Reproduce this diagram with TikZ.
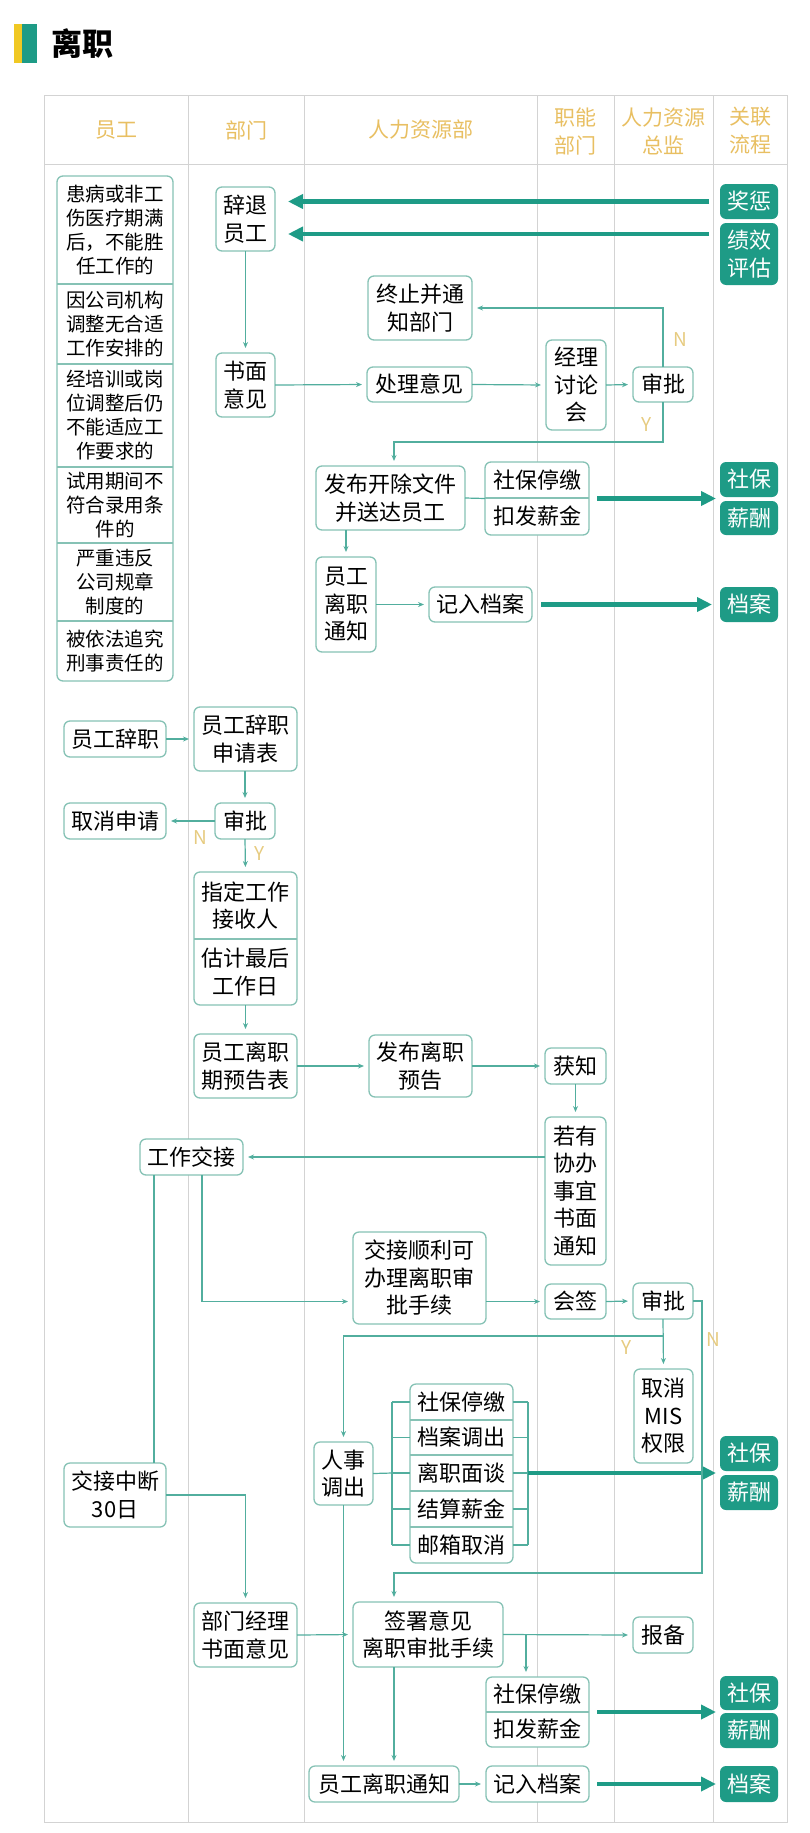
\documentclass[tikz,border=0pt]{standalone}
\usepackage{fontspec}
\setmainfont{Noto Sans CJK SC}
\usetikzlibrary{arrows.meta}
\definecolor{tealF}{HTML}{1E9B86}
\definecolor{lineC}{HTML}{52AE9E}
\definecolor{boxC}{HTML}{86C2B5}
\definecolor{gridC}{HTML}{D3D3D3}
\definecolor{goldC}{HTML}{E8BF62}
\definecolor{ynC}{HTML}{E6CB80}
\definecolor{yellowC}{HTML}{F0C823}
\newcommand\myfs[2]{\fontsize{#1}{#2}\selectfont}
\newcommand\nd[7][box]{\node[#1, minimum width={#5-#3}, minimum height={#6-#4}] (#2) at ({(#3+#5)/2},{(#4+#6)/2}) {#7};}
\begin{document}
\begin{tikzpicture}[x=1pt,y=-1pt,
  box/.style={draw=boxC, line width=1.3pt, rounded corners=6pt, fill=white, inner sep=0pt, outer sep=0pt, align=center, font=\myfs{22}{27.5}},
  row/.style={inner sep=0pt, outer sep=0pt, align=center, font=\myfs{22}{27.5}},
  lrow/.style={inner sep=0pt, outer sep=0pt, align=center, font=\myfs{19.5}{24}},
  fbox/.style={fill=tealF, rounded corners=6pt, text=white, inner sep=0pt, outer sep=0pt, align=center, font=\myfs{22}{27.5}},
  bline/.style={draw=boxC, line width=1.3pt},
  ln/.style={draw=lineC, line width=1.2pt},
  arr/.style={draw=lineC, line width=1.2pt, -{Stealth[length=6pt,width=5pt]}, shorten >=5pt},
  thk/.style={draw=tealF, line width=4.5pt, -{Triangle[length=15pt,width=14pt]}, shorten >=4pt},
  grid/.style={draw=gridC, line width=1pt},
  hdr/.style={text=goldC, font=\myfs{21}{28}, align=center, inner sep=0pt},
  yn/.style={text=ynC, font=\myfs{19}{19}, inner sep=0pt}]
\useasboundingbox (0,0) rectangle (809,1833);
% title
\fill[yellowC] (14,24) rectangle (22,63);
\fill[tealF] (22,24) rectangle (37,63);
\node[anchor=west, font=\myfs{31}{31}\bfseries, inner sep=0pt] (title) at (51,44) {离职};
% table
\draw[grid] (44,96) rectangle (787,1822);
\draw[grid] (44,164) -- (787,164);
\foreach \x in {188,304,537,614,713} \draw[grid] (\x,96) -- (\x,1822);
\node[hdr] (h1) at (116,130) {员工};
\node[hdr] (h2) at (246,130) {部门};
\node[hdr] (h3) at (420.5,130) {人力资源部};
\node[hdr] (h4) at (575.5,131) {职能\\部门};
\node[hdr] (h5) at (663.5,131) {人力资源\\总监};
\node[hdr] (h6) at (750,131) {关联\\流程};
% left stacked reasons
\nd{L}{57}{176}{173}{681}{}
\nd[lrow]{L1}{57}{176}{173}{284}{患病或非工\\伤医疗期满\\后，不能胜\\任工作的}
\nd[lrow]{L2}{57}{284}{173}{364}{因公司机构\\调整无合适\\工作安排的}
\nd[lrow]{L3}{57}{364}{173}{467}{经培训或岗\\位调整后仍\\不能适应工\\作要求的}
\nd[lrow]{L4}{57}{467}{173}{543}{试用期间不\\符合录用条\\件的}
\nd[lrow]{L5}{57}{543}{173}{621}{严重违反\\公司规章\\制度的}
\nd[lrow]{L6}{57}{621}{173}{681}{被依法追究\\刑事责任的}
\foreach \n in {L1,L2,L3,L4,L5} \draw[bline] (\n.south west) -- (\n.south east);
% part 1
\nd{ct}{216}{187}{275}{251}{辞退\\员工}
\nd{sm}{216}{353}{275}{417}{书面\\意见}
\nd[fbox]{jc}{720}{184}{778}{219}{奖惩}
\nd[fbox]{jx}{720}{223}{778}{285}{绩效\\评估}
\nd{cl}{367}{367}{472}{402}{处理意见}
\nd{jl}{546}{340}{606}{430}{经理\\讨论\\会}
\nd{sp1}{633}{367}{693}{402}{审批}
\nd{zz}{368}{276}{472}{340}{终止并通\\知部门}
\nd{fb}{316}{466}{465}{530}{发布开除文件\\并送达员工}
\nd{S1}{485}{462}{589}{535}{}
\nd[row]{S1a}{485}{462}{589}{498}{社保停缴}
\nd[row]{S1b}{485}{498}{589}{535}{扣发薪金}
\draw[bline] (S1a.south west) -- (S1a.south east);
\nd[fbox]{sb1}{720}{462}{778}{497}{社保}
\nd[fbox]{xc1}{720}{501}{778}{535}{薪酬}
\nd{lz1}{316}{557}{376}{652}{员工\\离职\\通知}
\nd{da1}{429}{587}{532}{622}{记入档案}
\nd[fbox]{dg1}{720}{587}{778}{622}{档案}
\coordinate (j2) at ([yshift=20pt]jx.west);
\draw[thk, shorten <=11pt, shorten >=13pt] (jc.west) -- (ct.east |- jc.west);
\draw[thk, shorten <=11pt, shorten >=13pt] (j2) -- (ct.east |- j2);
\draw[arr] (ct.south) -- (sm.north);
\draw[arr] (sm.east) -- (cl.west);
\draw[arr] (cl.east) -- (jl.west);
\draw[arr] (jl.east) -- (sp1.west);
\draw[arr] (sp1.north) |- (zz.east);
\node[yn] (n1) at (680,340) {N};
\draw[arr] (sp1.south) -- ++(0,40) -| ([xshift=3.5pt]fb.north);
\node[yn] (y1) at (647,425) {Y};
\draw[ln] (fb.east) -- (S1.west);
\draw[thk, shorten <=8pt] (S1.east) -- (sb1.west |- S1.east);
\draw[arr] (fb.south -| lz1.north) -- (lz1.north);
\draw[arr] (lz1.east |- da1.west) -- (da1.west);
\draw[thk, shorten <=9pt, shorten >=8pt] (da1.east) -- (dg1.west);
% part 2
\nd{yc}{64}{721}{166}{757}{员工辞职}
\nd{sqb}{194}{707}{297}{771}{员工辞职\\申请表}
\nd{sp2}{215}{803}{275}{839}{审批}
\nd{qx}{64}{803}{166}{839}{取消申请}
\nd{S2}{194}{872}{297}{1005}{}
\nd[row]{S2a}{194}{872}{297}{939}{指定工作\\接收人}
\nd[row]{S2b}{194}{939}{297}{1005}{估计最后\\工作日}
\draw[bline] (S2a.south west) -- (S2a.south east);
\nd{yg}{194}{1034}{297}{1098}{员工离职\\期预告表}
\nd{fl}{369}{1035}{472}{1097}{发布离职\\预告}
\nd{hz}{545}{1048}{606}{1084}{获知}
\nd{ry}{545}{1117}{606}{1265}{若有\\协办\\事宜\\书面\\通知}
\draw[arr] (yc.east) -- (sqb.west |- yc.east);
\draw[arr] (sqb.south -| sp2.north) -- (sp2.north);
\draw[arr] (sp2.west) -- (qx.east);
\node[yn] (n2) at (200,838) {N};
\draw[arr] (sp2.south) -- (S2.north);
\node[yn] (y2) at (260,854) {Y};
\draw[arr] (S2.south) -- (yg.north);
\draw[arr] (yg.east) -- (fl.west);
\draw[arr] (fl.east) -- (hz.west);
\draw[arr] (hz.south) -- (ry.north);
% part 3
\nd{gj}{140}{1139}{243}{1175}{工作交接}
\nd{jsl}{353}{1232}{486}{1324}{交接顺利可\\办理离职审\\批手续}
\nd{hq}{545}{1284}{606}{1319}{会签}
\nd{sp3}{633}{1283}{693}{1319}{审批}
\nd{mis}{634}{1369}{693}{1463}{取消\\MIS\\权限}
\nd{rs}{314}{1442}{373}{1505}{人事\\调出}
\nd{S3}{410}{1384}{513}{1563}{}
\nd[row]{S3a}{410}{1384}{513}{1420}{社保停缴}
\nd[row]{S3b}{410}{1420}{513}{1455}{档案调出}
\nd[row]{S3c}{410}{1455}{513}{1491}{离职面谈}
\nd[row]{S3d}{410}{1491}{513}{1527}{结算薪金}
\nd[row]{S3e}{410}{1527}{513}{1563}{邮箱取消}
\foreach \n in {S3a,S3b,S3c,S3d} \draw[bline] (\n.south west) -- (\n.south east);
\nd[fbox]{sb2}{720}{1436}{778}{1471}{社保}
\nd[fbox]{xc2}{720}{1475}{778}{1510}{薪酬}
\nd{jd}{64}{1463}{166}{1527}{交接中断\\30日}
\draw[arr] (ry.west |- gj.east) -- (gj.east);
\coordinate (g1) at ([xshift=-37.5pt]gj.south);
\coordinate (g2) at ([xshift=10.5pt]gj.south);
\draw[ln] (g1) -- (g1 |- jd.north);
\draw[arr] (g2) |- (jsl.west |- hq.west);
\draw[arr] (jsl.east |- hq.west) -- (hq.west);
\draw[arr] (hq.east) -- (sp3.west);
\draw[arr] (sp3.south) -- (mis.north);
\draw[arr] (sp3.south) ++(0,17) -| (rs.north);
\node[yn] (y3) at (627,1348) {Y};
\node[yn] (n3) at (713,1340) {N};
% brackets
\draw[ln] ([xshift=-18pt]S3a.west) -- ([xshift=-18pt]S3e.west);
\draw[ln] ([xshift=15pt]S3a.east) -- ([xshift=15pt]S3e.east);
\foreach \n in {S3a,S3b,S3c,S3d,S3e} {
  \draw[ln] (\n.west) -- ++(-18,0);
  \draw[ln] (\n.east) -- ++(15,0);
}
\draw[ln] (rs.east) -- ([xshift=-18pt]S3c.west);
\draw[thk, shorten <=15pt] (S3c.east) -- (sb2.west |- S3c.east);
% part 4
\nd{bm}{194}{1603}{297}{1667}{部门经理\\书面意见}
\nd{qs}{353}{1602}{503}{1667}{签署意见\\离职审批手续}
\nd{bb}{633}{1617}{693}{1653}{报备}
\nd{S4}{486}{1677}{589}{1747}{}
\nd[row]{S4a}{486}{1677}{589}{1712}{社保停缴}
\nd[row]{S4b}{486}{1712}{589}{1747}{扣发薪金}
\draw[bline] (S4a.south west) -- (S4a.south east);
\nd[fbox]{sb3}{720}{1676}{778}{1710}{社保}
\nd[fbox]{xc3}{720}{1713}{778}{1748}{薪酬}
\nd{lz2}{309}{1766}{459}{1802}{员工离职通知}
\nd{da2}{486}{1766}{589}{1802}{记入档案}
\nd[fbox]{dg2}{720}{1766}{778}{1802}{档案}
\draw[arr] (sp3.east) -| ++(9,272) -| ([xshift=-34pt]qs.north);
\draw[arr] (jd.east) -| (bm.north);
\draw[arr] (bm.east) -- (qs.west);
\draw[arr] (qs.east) -- (bb.west);
\coordinate (s4n) at ([xshift=-11.5pt]S4.north);
\draw[arr] (s4n |- qs.east) -- (s4n);
\draw[thk, shorten <=8pt] (S4.east) -- (sb3.west |- S4.east);
\draw[arr] (rs.south) -- (rs.south |- lz2.north);
\coordinate (q1) at ([xshift=-34pt]qs.south);
\draw[arr] (q1) -- (q1 |- lz2.north);
\draw[arr] (lz2.east) -- (da2.west);
\draw[thk, shorten <=8pt] (da2.east) -- (dg2.west);
\end{tikzpicture}
\end{document}
